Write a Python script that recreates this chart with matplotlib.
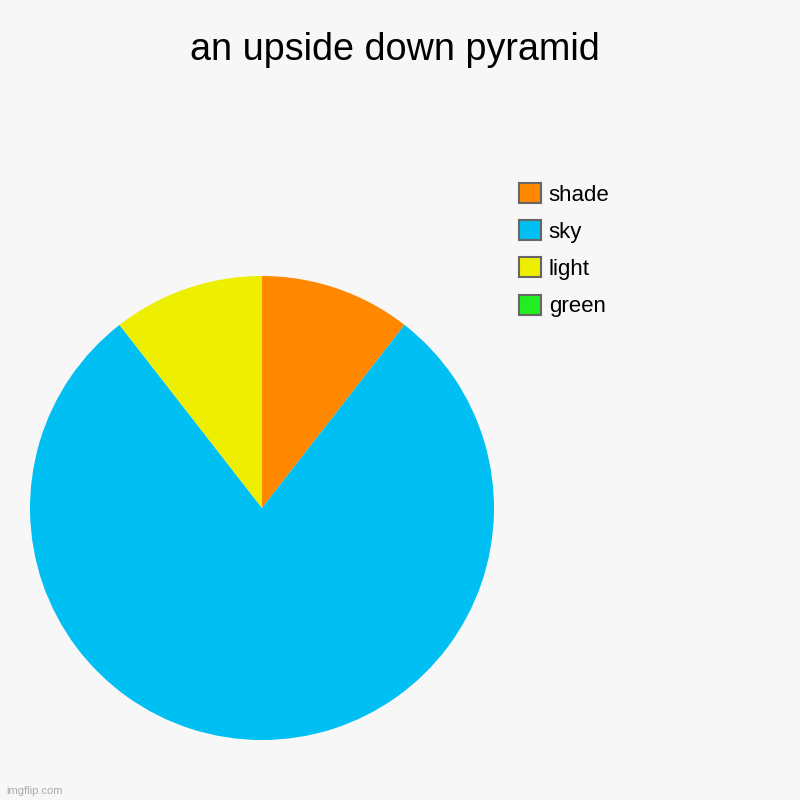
import matplotlib
matplotlib.use("Agg")
import matplotlib.pyplot as plt
from matplotlib.patches import Patch

plt.rcParams['font.family'] = ['Liberation Sans', 'DejaVu Sans']

# data (clockwise from 12 o'clock)
labels = ["shade", "sky", "light", "green"]
values = [10, 75, 10, 0]
colors = ["#FF8800", "#00BFF3", "#EEEE00", "#22EE22"]

bg = "#F7F7F7"
fig = plt.figure(figsize=(8, 8), dpi=100, facecolor=bg)

ax = fig.add_axes([30/800, 60/800, 464/800, 464/800])
ax.set_facecolor(bg)
ax.pie(values, colors=colors, startangle=90, counterclock=False,
       wedgeprops=dict(linewidth=0))
ax.set_xlim(-1, 1)
ax.set_ylim(-1, 1)
ax.set_aspect("equal")

fig.text(0.4935, 1 - 50/800, "an upside down pyramid", ha="center", va="center",
         fontsize=27.2, color="#000000")

# legend
handles = [Patch(facecolor=c, edgecolor="#666666", linewidth=1.5) for c in colors]
leg = fig.legend(handles, labels, loc="upper left", bbox_to_anchor=(518.5/800, 1 - 183/800),
                 frameon=False, fontsize=16, handlelength=1.0, handleheight=1.0,
                 labelspacing=0.66, handletextpad=0.36, borderaxespad=0,
                 borderpad=0)

fig.text(6/800, 1 - 791/800, "imgflip.com", fontsize=8, color="#AAAAAA",
         ha="left", va="center")

fig.savefig("out.png", dpi=100, facecolor=bg)
